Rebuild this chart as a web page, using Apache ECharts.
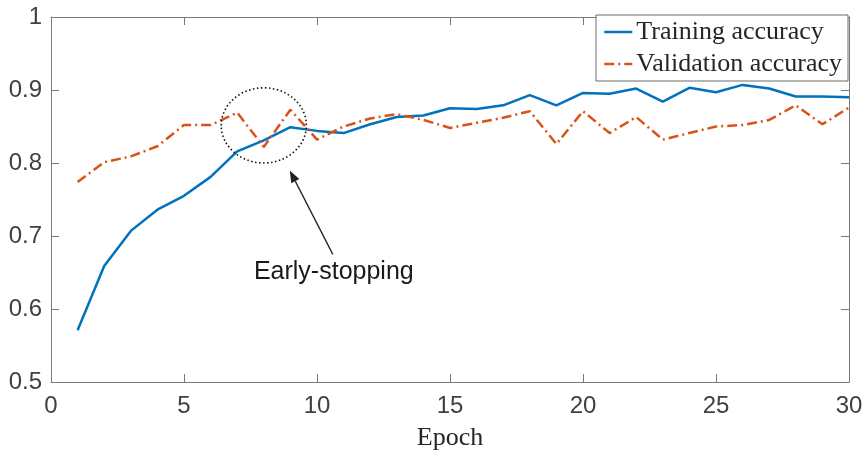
<!DOCTYPE html>
<html><head><meta charset="utf-8">
<script src="https://cdn.jsdelivr.net/npm/echarts@6/dist/echarts.min.js"></script>
<style>html,body{margin:0;padding:0;background:#fff}#c{width:865px;height:452px}</style>
</head><body><div id="c"></div>
<script>
const epochs = [1,2,3,4,5,6,7,8,9,10,11,12,13,14,15,16,17,18,19,20,21,22,23,24,25,26,27,28,29,30];
const trainingAcc = [0.571,0.659,0.707,0.736,0.755,0.781,0.816,0.831,0.849,0.844,0.841,0.853,0.863,0.865,0.875,0.874,0.879,0.893,0.879,0.896,0.895,0.902,0.884,0.903,0.897,0.907,0.902,0.891,0.891,0.890];
const validationAcc = [0.774,0.801,0.809,0.823,0.852,0.852,0.869,0.822,0.873,0.832,0.850,0.861,0.867,0.859,0.848,0.855,0.862,0.871,0.826,0.871,0.841,0.863,0.832,0.841,0.850,0.852,0.859,0.879,0.853,0.876];
const xTicks = [0,5,10,15,20,25,30];
const yTicks = [0.5,0.6,0.7,0.8,0.9,1];
const seriesNames = ['Training accuracy','Validation accuracy'];
const annotationText = 'Early-stopping';

const axisColor = '#7a7a7a';
const labelColor = '#404040';
const chart = echarts.init(document.getElementById('c'));
const grid = {left:51, right:16, top:17, bottom:70, outerBoundsMode:'none', containLabel:false};
const baseX = {type:'value', min:xTicks[0], max:xTicks[xTicks.length-1], interval:xTicks[1]-xTicks[0],
  axisLine:{show:true,onZero:false,lineStyle:{color:axisColor,width:1}},
  axisTick:{show:true,inside:true,length:8,lineStyle:{color:axisColor}},
  splitLine:{show:false}};
const baseY = {type:'value', min:yTicks[0], max:yTicks[yTicks.length-1], interval:0.1,
  axisLine:{show:true,onZero:false,lineStyle:{color:axisColor,width:1}},
  axisTick:{show:true,inside:true,length:8,lineStyle:{color:axisColor}},
  splitLine:{show:false}};
chart.setOption({
  animation:false,
  grid:grid,
  legend:{
    right:17, top:15, orient:'vertical',
    data:seriesNames,
    itemWidth:28, itemHeight:14, itemGap:6,
    padding:[4,6,4,7],
    itemStyle:{opacity:0},
    lineStyle:{width:2.5},
    borderColor:'#6b6b6b', borderWidth:1, backgroundColor:'#fff',
    textStyle:{fontFamily:'Liberation Serif', fontSize:26, color:'#262626', padding:[0,0,0,-1]}
  },
  xAxis:[
    Object.assign({}, baseX, {position:'bottom',
      name:'Epoch', nameLocation:'middle', nameGap:43,
      nameTextStyle:{fontFamily:'Liberation Serif', fontSize:26, color:'#262626'},
      axisLabel:{show:true, fontFamily:'Liberation Sans', fontSize:24, color:labelColor, margin:12,
        formatter:v=>String(v)}}),
    Object.assign({}, baseX, {position:'top', axisLabel:{show:false}})
  ],
  yAxis:[
    Object.assign({}, baseY, {position:'left',
      axisLabel:{show:true, fontFamily:'Liberation Sans', fontSize:24, color:labelColor, margin:9,
        formatter:v=>String(Math.round(v*10)/10)}}),
    Object.assign({}, baseY, {position:'right', axisLabel:{show:false}})
  ],
  series:[
    {name:seriesNames[0], type:'line', symbol:'none', data:epochs.map((e,i)=>[e,trainingAcc[i]]),
     lineStyle:{color:'#0072BD', width:2.5}, itemStyle:{color:'#0072BD'}},
    {name:seriesNames[1], type:'line', symbol:'none', data:epochs.map((e,i)=>[e,validationAcc[i]]),
     lineStyle:{color:'#D95319', width:2.5, type:[10,4,2,4]}, itemStyle:{color:'#D95319'}}
  ]
});
const c = chart.convertToPixel({xAxisIndex:0,yAxisIndex:0},[8,0.8515]);
const p0 = chart.convertToPixel({xAxisIndex:0,yAxisIndex:0},[8-1.6,0.8515-0.0515]);
const rx = c[0]-p0[0], ry = p0[1]-c[1];
const tip = [c[0]+26, c[1]+45];
const tail = [c[0]+69, c[1]+129];
const ang = Math.atan2(tip[1]-tail[1], tip[0]-tail[0]);
const hl = 12, hw = 4.5;
const bx = tip[0]-hl*Math.cos(ang), by = tip[1]-hl*Math.sin(ang);
const nx = -Math.sin(ang), ny = Math.cos(ang);
chart.setOption({graphic:[
  {type:'ellipse', shape:{cx:c[0], cy:c[1], rx:rx, ry:ry},
   style:{fill:null, stroke:'#111', lineWidth:1.6, lineDash:[1.5,2.5]}, z:10},
  {type:'line', shape:{x1:tail[0], y1:tail[1], x2:bx, y2:by}, style:{stroke:'#222', lineWidth:1.3}, z:10},
  {type:'polygon', shape:{points:[tip,[bx+nx*hw,by+ny*hw],[bx-nx*hw,by-ny*hw]]}, style:{fill:'#222'}, z:10},
  {type:'text', x:tail[0]+1, y:tail[1]+18, style:{text:annotationText, fontFamily:'Liberation Sans', fontSize:25, fill:'#1a1a1a', align:'center', verticalAlign:'middle'}, z:10}
]});
</script></body></html>
